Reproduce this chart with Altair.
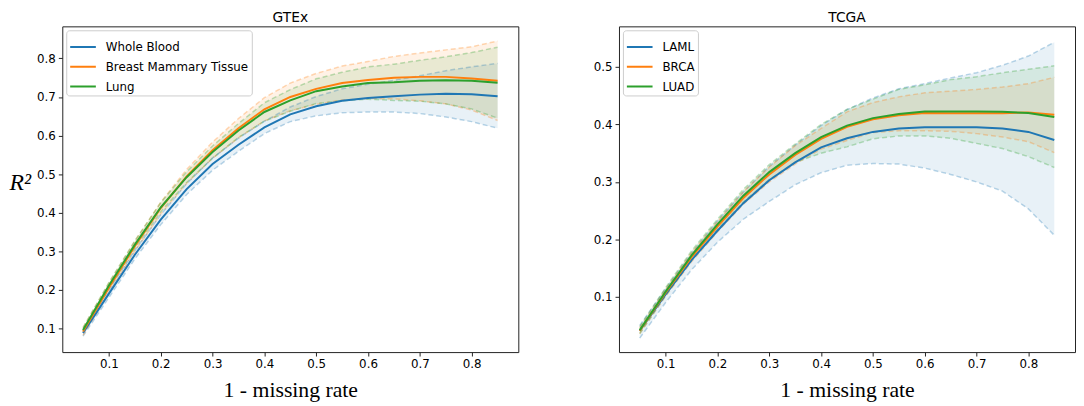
import altair as alt
import pandas as pd

x_vals = [0.05, 0.10, 0.15, 0.20, 0.25, 0.30, 0.35, 0.40, 0.45, 0.50,
          0.55, 0.60, 0.65, 0.70, 0.75, 0.80, 0.85]

# GTEx
gtex_names = ["Whole Blood", "Breast Mammary Tissue", "Lung"]
wb_mean = [0.088, 0.190, 0.291, 0.382, 0.461, 0.526, 0.576, 0.621, 0.655, 0.676, 0.690, 0.697, 0.702, 0.706, 0.708, 0.707, 0.702]
wb_lo = [0.080, 0.180, 0.280, 0.369, 0.447, 0.510, 0.559, 0.605, 0.636, 0.651, 0.659, 0.661, 0.661, 0.657, 0.648, 0.636, 0.619]
wb_hi = [0.096, 0.200, 0.302, 0.395, 0.475, 0.542, 0.593, 0.637, 0.674, 0.701, 0.721, 0.733, 0.743, 0.755, 0.768, 0.778, 0.787]
bmt_mean = [0.092, 0.205, 0.313, 0.412, 0.494, 0.562, 0.619, 0.668, 0.700, 0.721, 0.736, 0.744, 0.750, 0.752, 0.752, 0.748, 0.742]
bmt_lo = [0.082, 0.193, 0.300, 0.397, 0.476, 0.541, 0.594, 0.638, 0.664, 0.681, 0.692, 0.696, 0.695, 0.690, 0.682, 0.666, 0.639]
bmt_hi = [0.102, 0.217, 0.326, 0.427, 0.512, 0.583, 0.644, 0.698, 0.736, 0.761, 0.780, 0.792, 0.805, 0.814, 0.822, 0.830, 0.845]
lung_mean = [0.096, 0.211, 0.317, 0.414, 0.492, 0.557, 0.613, 0.661, 0.691, 0.715, 0.727, 0.736, 0.738, 0.742, 0.743, 0.742, 0.737]
lung_lo = [0.090, 0.203, 0.307, 0.402, 0.478, 0.541, 0.595, 0.637, 0.663, 0.683, 0.690, 0.694, 0.691, 0.689, 0.682, 0.669, 0.645]
lung_hi = [0.102, 0.219, 0.327, 0.426, 0.506, 0.573, 0.631, 0.685, 0.719, 0.747, 0.764, 0.778, 0.785, 0.795, 0.804, 0.815, 0.829]

# TCGA
tcga_names = ["LAML", "BRCA", "LUAD"]
laml_mean = [0.041, 0.104, 0.164, 0.215, 0.263, 0.303, 0.334, 0.360, 0.376, 0.387, 0.393, 0.395, 0.395, 0.395, 0.393, 0.387, 0.373]
laml_lo = [0.028, 0.090, 0.147, 0.195, 0.235, 0.266, 0.295, 0.316, 0.329, 0.332, 0.331, 0.324, 0.313, 0.300, 0.284, 0.253, 0.207]
laml_hi = [0.050, 0.114, 0.176, 0.232, 0.283, 0.327, 0.364, 0.398, 0.426, 0.446, 0.462, 0.471, 0.481, 0.490, 0.503, 0.519, 0.543]
brca_mean = [0.041, 0.107, 0.169, 0.222, 0.272, 0.313, 0.347, 0.375, 0.396, 0.409, 0.416, 0.420, 0.4195, 0.4195, 0.4195, 0.421, 0.417]
brca_lo = [0.036, 0.101, 0.161, 0.213, 0.261, 0.300, 0.331, 0.357, 0.372, 0.386, 0.389, 0.389, 0.388, 0.384, 0.378, 0.370, 0.351]
brca_hi = [0.046, 0.113, 0.177, 0.231, 0.283, 0.326, 0.363, 0.393, 0.422, 0.438, 0.448, 0.455, 0.458, 0.461, 0.465, 0.471, 0.482]
luad_mean = [0.042, 0.109, 0.172, 0.226, 0.276, 0.317, 0.350, 0.378, 0.398, 0.411, 0.418, 0.4225, 0.4225, 0.4225, 0.422, 0.420, 0.413]
luad_lo = [0.036, 0.102, 0.164, 0.217, 0.265, 0.304, 0.334, 0.350, 0.361, 0.375, 0.380, 0.380, 0.376, 0.367, 0.358, 0.344, 0.325]
luad_hi = [0.048, 0.116, 0.180, 0.235, 0.287, 0.330, 0.366, 0.400, 0.426, 0.444, 0.461, 0.469, 0.478, 0.483, 0.490, 0.496, 0.502]

x_ticks = [0.1, 0.2, 0.3, 0.4, 0.5, 0.6, 0.7, 0.8]
gtex_yticks = [0.1, 0.2, 0.3, 0.4, 0.5, 0.6, 0.7, 0.8]
tcga_yticks = [0.1, 0.2, 0.3, 0.4, 0.5]
colors = ["#1f77b4", "#ff7f0e", "#2ca02c"]


def make_df(names, means, los, his):
    rows = []
    for name, m, lo, hi in zip(names, means, los, his):
        for xv, a, b, c in zip(x_vals, m, lo, hi):
            rows.append({"x": xv, "series": name, "mean": a, "lo": b, "hi": c})
    return pd.DataFrame(rows)


gtex_df = make_df(gtex_names, [wb_mean, bmt_mean, lung_mean],
                  [wb_lo, bmt_lo, lung_lo], [wb_hi, bmt_hi, lung_hi])
tcga_df = make_df(tcga_names, [laml_mean, brca_mean, luad_mean],
                  [laml_lo, brca_lo, luad_lo], [laml_hi, brca_hi, luad_hi])


def panel(df, names, title, ydom, yticks, show_ytitle):
    xscale = alt.Scale(domain=[0.01, 0.89], nice=False, zero=False)
    yscale = alt.Scale(domain=ydom, nice=False, zero=False)
    xaxis = alt.Axis(values=x_ticks, format=".1f", title="1 - missing rate",
                     titleFont="Liberation Serif", titleFontSize=22,
                     titleFontWeight="normal", titlePadding=10)
    if show_ytitle:
        yaxis = alt.Axis(values=yticks, format=".1f", title="R²",
                         titleAngle=0, titleFont="Liberation Serif",
                         titleFontStyle="italic", titleFontSize=24,
                         titleFontWeight="normal", titleAlign="left",
                         titleBaseline="middle", titleX=-54, titleY=158)
    else:
        yaxis = alt.Axis(values=yticks, format=".1f", title=None)
    scale_c = alt.Scale(domain=names, range=colors)
    leg = alt.Legend(orient="top-left", title=None, symbolType="stroke",
                     symbolOpacity=1, symbolDash=[1, 0])
    color = alt.Color("series:N", scale=scale_c, legend=leg)
    x = alt.X("x:Q", scale=xscale, axis=xaxis)
    line = alt.Chart(df).mark_line(strokeWidth=2).encode(
        x=x,
        y=alt.Y("mean:Q", scale=yscale, axis=yaxis),
        color=color,
    )
    band = alt.Chart(df).mark_area(opacity=0.1).encode(
        x=x,
        y=alt.Y("lo:Q", scale=yscale, axis=yaxis),
        y2="hi:Q",
        color=color,
    )
    lo_line = alt.Chart(df).mark_line(opacity=0.3, strokeDash=[5, 3], strokeWidth=1.5).encode(
        x=x,
        y=alt.Y("lo:Q", scale=yscale, axis=yaxis),
        color=color,
    )
    hi_line = alt.Chart(df).mark_line(opacity=0.3, strokeDash=[5, 3], strokeWidth=1.5).encode(
        x=x,
        y=alt.Y("hi:Q", scale=yscale, axis=yaxis),
        color=color,
    )
    return alt.layer(band, lo_line, hi_line, line).properties(
        width=462, height=330, title=title)


left = panel(gtex_df, gtex_names, "GTEx", [0.0385, 0.883], gtex_yticks, True)
right = panel(tcga_df, tcga_names, "TCGA", [0.0038, 0.5707], tcga_yticks, False)

chart = (
    alt.hconcat(left, right, spacing=74)
    .resolve_scale(color="independent", y="independent")
    .properties(padding={"left": 0, "top": 0, "right": 0, "bottom": 0})
    .configure_view(stroke="#222222", strokeWidth=1)
    .configure_title(fontSize=14, font="DejaVu Sans", fontWeight="normal",
                     offset=1, color="black")
    .configure_legend(fillColor="white", strokeColor="#cccccc", cornerRadius=3,
                      padding=3, symbolSize=676, rowPadding=-2,
                      symbolStrokeWidth=2, labelFontSize=12,
                      labelFont="DejaVu Sans", labelColor="black",
                      labelOffset=9, labelLimit=400, offset=4)
    .configure_axis(
        grid=False, domain=False, tickColor="#222222", tickSize=4,
        labelFont="DejaVu Sans", labelFontSize=12, labelColor="black",
        labelPadding=3, titleColor="black",
    )
)

chart.save("out.html", embed_options={"renderer": "svg", "actions": False})
